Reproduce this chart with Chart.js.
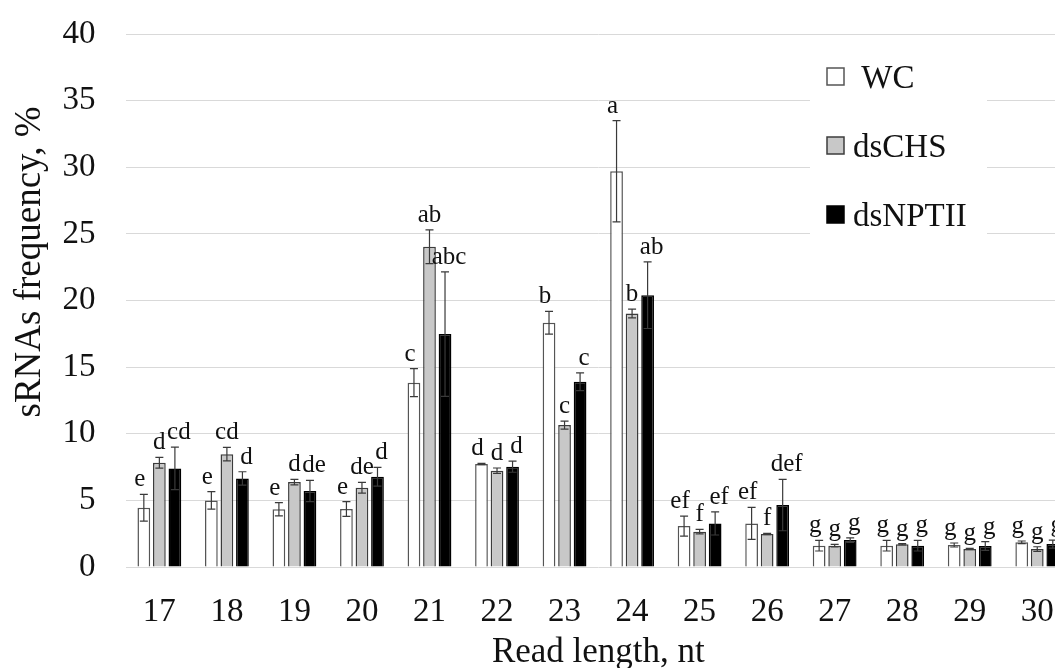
<!DOCTYPE html>
<html>
<head>
<meta charset="utf-8">
<script src="https://cdn.jsdelivr.net/npm/chart.js@4"></script>
<style>
  html, body { margin: 0; padding: 0; background: #fff; overflow: hidden; }
</style>
</head>
<body>
<canvas id="srnaChart" width="1080" height="668"></canvas>
<script>
// Daten
const categories = ['17', '18', '19', '20', '21', '22', '23', '24', '25', '26', '27', '28', '29', '30'];
const seriesLabels = [' WC', 'dsCHS', 'dsNPTII'];

const wcValues  = [4.45, 5.0, 4.33, 4.35, 13.83, 7.73, 18.33, 29.7, 3.07, 3.27, 1.6, 1.6, 1.65, 1.85];
const wcErrors  = [1.0, 0.65, 0.5, 0.55, 1.05, 0.05, 0.85, 3.8, 0.75, 1.2, 0.4, 0.4, 0.15, 0.1];
const chsValues = [7.82, 8.47, 6.37, 5.95, 24.03, 7.23, 10.65, 19.03, 2.65, 2.47, 1.6, 1.7, 1.35, 1.35];
const chsErrors = [0.4, 0.5, 0.2, 0.4, 1.27, 0.2, 0.3, 0.33, 0.17, 0.05, 0.1, 0.05, 0.05, 0.17];
const nptValues = [7.4, 6.65, 5.7, 6.77, 17.48, 7.53, 13.9, 20.4, 3.27, 4.65, 2.02, 1.6, 1.58, 1.72];
const nptErrors = [1.6, 0.5, 0.8, 0.7, 4.67, 0.42, 0.67, 2.5, 0.87, 1.93, 0.17, 0.4, 0.33, 0.3];

// Buchstaben der Signifikanzgruppen
const wcLetters  = ['e', 'e', 'e', 'e', 'c', 'd', 'b', 'a', 'ef', 'ef', 'g', 'g', 'g', 'g'];
const chsLetters = ['d', 'cd', 'd', 'de', 'ab', 'd', 'c', 'b', 'f', 'f', 'g', 'g', 'g', 'g'];
const nptLetters = ['cd', 'd', 'de', 'd', 'abc', 'd', 'c', 'ab', 'ef', 'def', 'g', 'g', 'g', 'g'];

const yTicks = [0, 5, 10, 15, 20, 25, 30, 35, 40];
const yTitle = 'sRNAs frequency, %';

const serif = 'Liberation Serif';
const errorSets = [wcErrors, chsErrors, nptErrors];
const letterSets = [wcLetters, chsLetters, nptLetters];

// Fehlerbalken und Buchstaben zeichnen
const errorBarPlugin = {
    id: 'errorBars',
    afterDatasetsDraw(chart) {
        const ctx = chart.ctx;
        const y = chart.scales.y;
        ctx.save();
        chart.data.datasets.forEach((ds, i) => {
            const meta = chart.getDatasetMeta(i);
            meta.data.forEach((bar, j) => {
                const v = ds.data[j];
                const e = errorSets[i][j];
                const top = y.getPixelForValue(v + e);
                const bottom = y.getPixelForValue(v - e);
                ctx.strokeStyle = '#3a3a3a';
                ctx.lineWidth = 1.2;
                ctx.beginPath();
                ctx.moveTo(bar.x, top);
                ctx.lineTo(bar.x, bottom);
                ctx.moveTo(bar.x - 4, top);
                ctx.lineTo(bar.x + 4, top);
                ctx.moveTo(bar.x - 4, bottom);
                ctx.lineTo(bar.x + 4, bottom);
                ctx.stroke();

                ctx.fillStyle = '#111';
                ctx.font = '25px "' + serif + '"';
                ctx.textAlign = 'center';
                ctx.textBaseline = 'alphabetic';
                ctx.fillText(letterSets[i][j], bar.x + (i - 1) * 4, top - 8);
            });
        });
        ctx.restore();
    }
};

// Legende innerhalb der Zeichenfläche + Achsentitel links
const legendPlugin = {
    id: 'insideLegend',
    afterDatasetsDraw(chart) {
        const ctx = chart.ctx;
        const top = chart.chartArea.top;
        ctx.save();
        ctx.fillStyle = '#fff';
        ctx.fillRect(810, top + 16, 177, 196);
        chart.data.datasets.forEach((ds, i) => {
            const base = top + 54 + i * 69;
            ctx.fillStyle = ds.backgroundColor;
            ctx.strokeStyle = ds.borderColor;
            ctx.lineWidth = 1.5;
            ctx.fillRect(827, base - 20, 17, 17);
            ctx.strokeRect(827, base - 20, 17, 17);
            ctx.fillStyle = '#111';
            ctx.font = '33px "' + serif + '"';
            ctx.textAlign = 'left';
            ctx.textBaseline = 'alphabetic';
            ctx.fillText(ds.label, 853, base);
        });

        // y-Titel etwas oberhalb der Mitte, wie im Original
        ctx.translate(30, top + 228);
        ctx.rotate(-Math.PI / 2);
        ctx.fillStyle = '#111';
        ctx.font = '37px "' + serif + '"';
        ctx.textAlign = 'center';
        ctx.textBaseline = 'middle';
        ctx.fillText(yTitle, 0, 0);
        ctx.restore();
    }
};

const ctx = document.getElementById('srnaChart').getContext('2d');
window.srnaChart = new Chart(ctx, {
    type: 'bar',
    data: {
        labels: categories,
        datasets: [
            { label: seriesLabels[0], data: wcValues, backgroundColor: '#ffffff', borderColor: '#555555', borderWidth: 1.5 },
            { label: seriesLabels[1], data: chsValues, backgroundColor: '#c8c8c8', borderColor: '#3c3c3c', borderWidth: 1.5 },
            { label: seriesLabels[2], data: nptValues, backgroundColor: '#000000', borderColor: '#000000', borderWidth: 1.5 }
        ]
    },
    options: {
        responsive: false,
        animation: false,
        devicePixelRatio: 1,
        datasets: {
            bar: { categoryPercentage: 0.69, barPercentage: 0.82 }
        },
        layout: { padding: { top: 34, right: 6.7, left: 0, bottom: 0 } },
        plugins: {
            legend: { display: false },
            tooltip: { enabled: false }
        },
        scales: {
            x: {
                grid: { display: false, drawTicks: false },
                border: { display: false },
                ticks: {
                    color: '#111',
                    padding: 26,
                    font: { family: serif, size: 33 }
                },
                title: {
                    display: true,
                    text: 'Read length, nt',
                    color: '#111',
                    padding: { top: 0, bottom: -6 },
                    font: { family: serif, size: 35 }
                },
                afterFit: s => { s.height = 101; }
            },
            y: {
                min: 0,
                max: 40,
                afterBuildTicks: s => { s.ticks = yTicks.map(v => ({ value: v })); },
                grid: { color: '#d9d9d9', lineWidth: 1, drawTicks: false },
                border: { display: false },
                ticks: {
                    color: '#111',
                    padding: 30,
                    font: { family: serif, size: 33 }
                },
                afterFit: s => {
                    s.width = 125.6;
                    s.paddingTop = 0;
                    s.paddingBottom = 0;
                }
            }
        }
    },
    plugins: [errorBarPlugin, legendPlugin]
});
</script>
</body>
</html>
